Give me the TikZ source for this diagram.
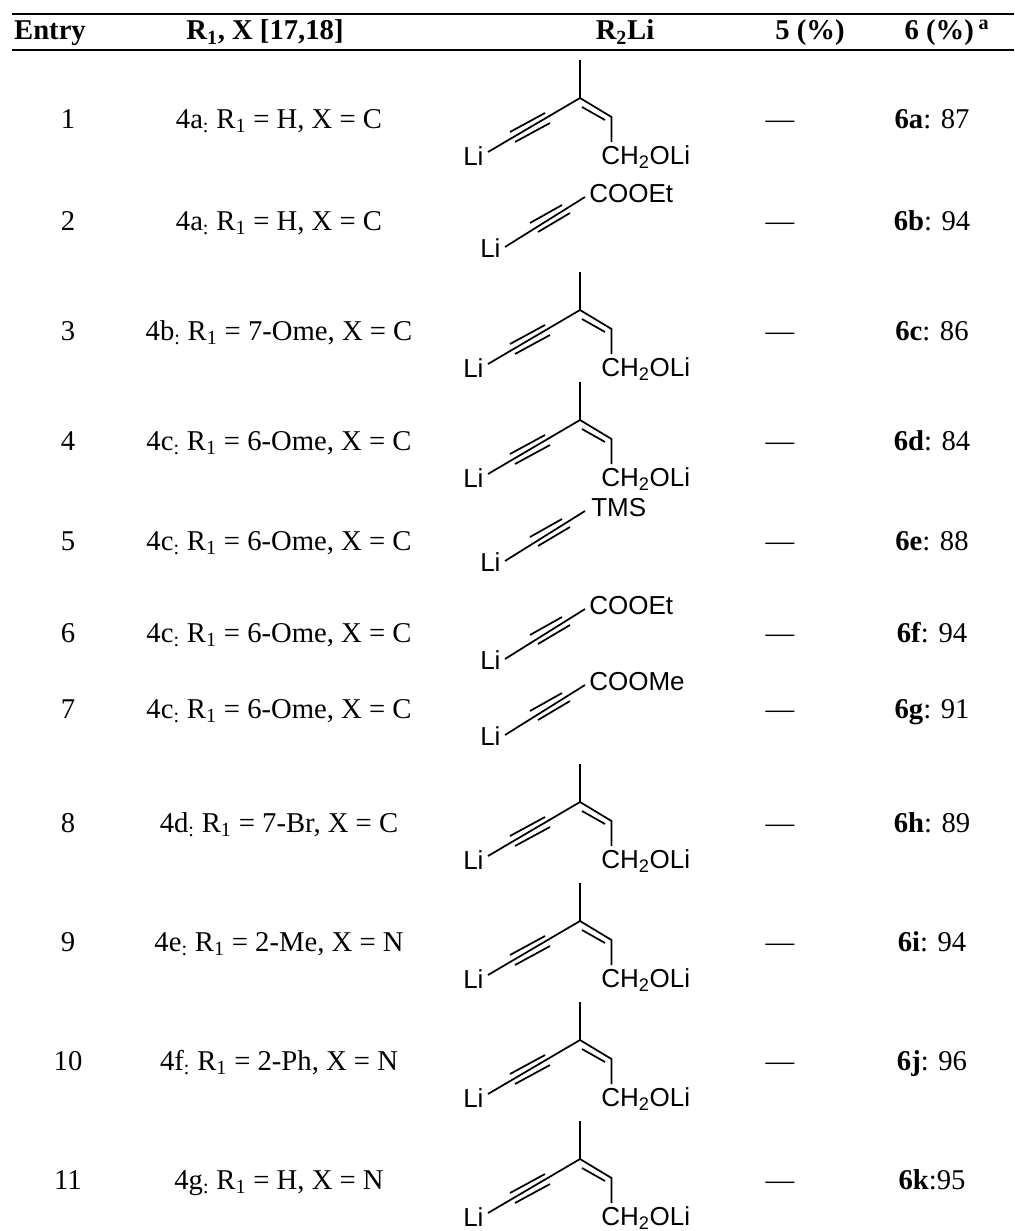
\documentclass[tikz,border=0pt]{standalone}
\usepackage{fontspec}
\setmainfont{Liberation Serif}
\newfontfamily\chemfont{Liberation Sans}
\tikzset{
  txt/.style={font=\fontsize{21.5}{25}\selectfont, inner sep=0pt, anchor=base},
  hdr/.style={font=\fontsize{21.5}{25}\selectfont\bfseries, inner sep=0pt, anchor=base},
  lab/.style={font=\fontsize{19.5}{23}\selectfont\chemfont, inner sep=0pt, anchor=base west},
  bond/.style={line width=1.3pt, line cap=butt, line join=miter}
}
\newcommand\trow[5]{%
  \node[txt] (e#1) at (68,#2) {#3};
  \node[txt] (r#1) at (279,#2) {#4};
  \node[txt] (d#1) at (780,#2) {\textemdash};
  \node[txt] (v#1) at (932,#2) {#5};}
\newcommand\enyne[2]{%
  \begin{scope}[shift={(0,#2)}]
    \draw[bond] (580,-68) -- (580,-30) -- (611.5,-11) -- (611.5,14);
    \draw[bond] (582,-21) -- (605,-8);
    \draw[bond] (488,24) -- (580,-30);
    \draw[bond] (510,4) -- (545,-15);
    \draw[bond] (515,14) -- (550,-5);
    \node[lab] (#1li) at (463,37) {Li};
    \node[lab] (#1ch) at (601,36) {CH\textsubscript{2}OLi};
  \end{scope}}
\newcommand\alkyne[4]{%
  \begin{scope}[shift={(0,#2)}]
    \draw[bond] (505,17) -- (585,-33);
    \draw[bond] (530,-7) -- (562,-25);
    \draw[bond] (538,2) -- (570,-17);
    \node[lab] (#1li) at (480,27) {Li};
    \node[lab] (#1r) at (#4,-28) {#3};
  \end{scope}}
\begin{document}
\begin{tikzpicture}[x=0.75pt,y=-0.75pt]
\useasboundingbox (0,0) rectangle (1014,1231);
\draw[line width=1.7pt] (12,13.8) -- (1014,13.8);
\draw[line width=1.3pt] (12,50) -- (1014,50);
\node[hdr] (hEntry) at (50,40) {Entry};
\node[hdr] (hR1) at (265,40) {R\textsubscript{1}, X [17,18]};
\node[hdr] (hR2) at (625,40) {R\textsubscript{2}Li};
\node[hdr] (h5) at (810,40) {5 (\%)};
\node[hdr] (h6) at (947,40) {6 (\%)\,\textsuperscript{a}};
%
\trow{1}{128}{1}{4a\textsubscript{:} R\textsubscript{1} = H, X = C}{\textbf{6a}: 87}
\enyne{s1}{128}
\trow{2}{230}{2}{4a\textsubscript{:} R\textsubscript{1} = H, X = C}{\textbf{6b}: 94}
\alkyne{s2}{230}{COOEt}{589}
\trow{3}{340}{3}{4b\textsubscript{:} R\textsubscript{1} = 7-Ome, X = C}{\textbf{6c}: 86}
\enyne{s3}{340}
\trow{4}{450}{4}{4c\textsubscript{:} R\textsubscript{1} = 6-Ome, X = C}{\textbf{6d}: 84}
\enyne{s4}{450}
\trow{5}{550}{5}{4c\textsubscript{:} R\textsubscript{1} = 6-Ome, X = C}{\textbf{6e}: 88}
\alkyne{s5}{544}{TMS}{591}
\trow{6}{642}{6}{4c\textsubscript{:} R\textsubscript{1} = 6-Ome, X = C}{\textbf{6f}: 94}
\alkyne{s6}{642}{COOEt}{589}
\trow{7}{718}{7}{4c\textsubscript{:} R\textsubscript{1} = 6-Ome, X = C}{\textbf{6g}: 91}
\alkyne{s7}{718}{COOMe}{589}
\trow{8}{832}{8}{4d\textsubscript{:} R\textsubscript{1} = 7-Br, X = C}{\textbf{6h}: 89}
\enyne{s8}{832}
\trow{9}{951}{9}{4e\textsubscript{:} R\textsubscript{1} = 2-Me, X = N}{\textbf{6i}: 94}
\enyne{s9}{951}
\trow{10}{1070}{10}{4f\textsubscript{:} R\textsubscript{1} = 2-Ph, X = N}{\textbf{6j}: 96}
\enyne{s10}{1070}
\trow{11}{1189}{11}{4g\textsubscript{:} R\textsubscript{1} = H, X = N}{\textbf{6k}:95}
\enyne{s11}{1189}
\end{tikzpicture}
\end{document}
